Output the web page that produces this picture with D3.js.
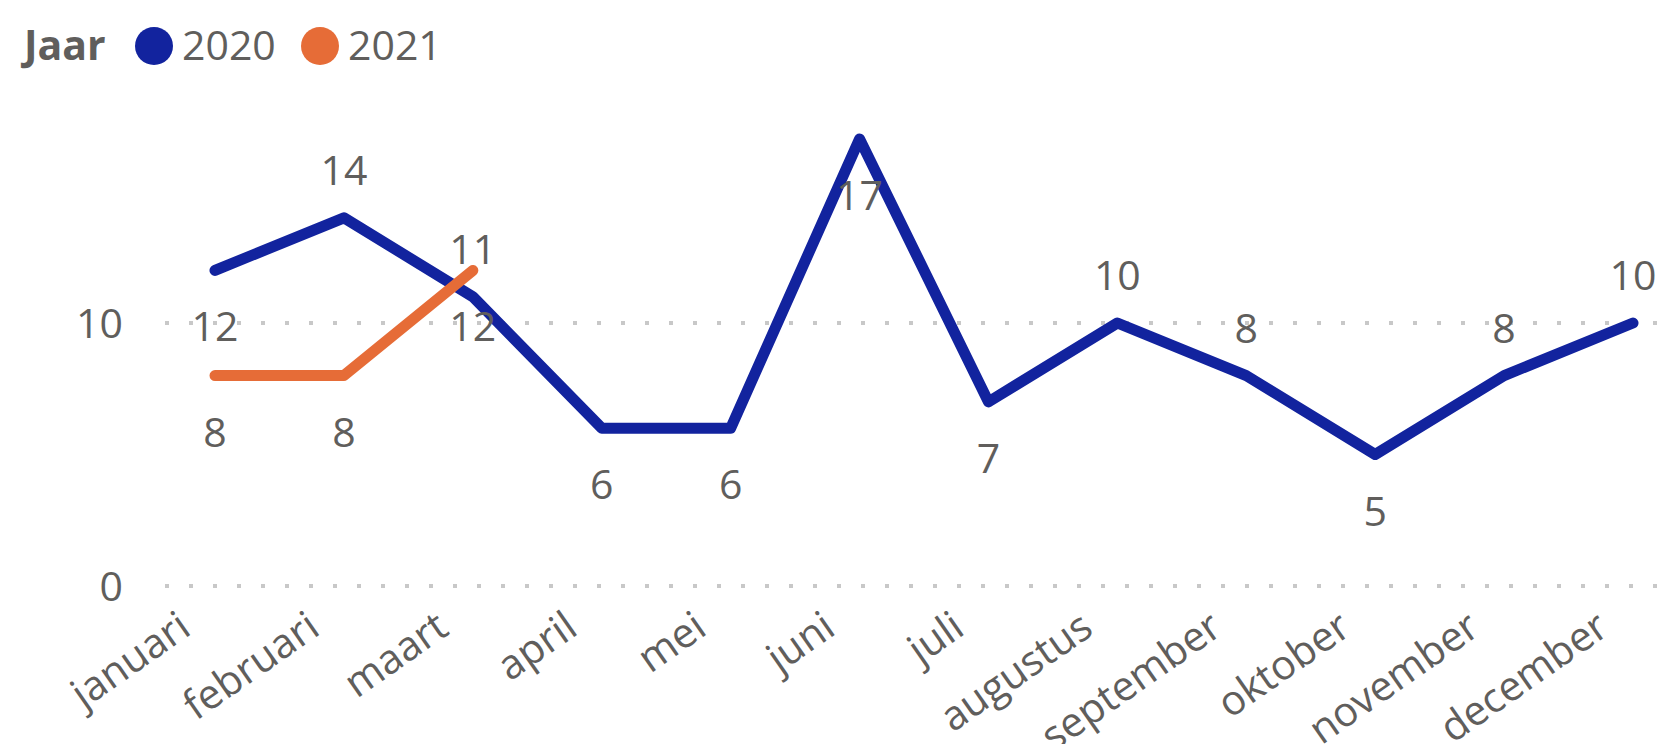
<!DOCTYPE html>
<html>
<head>
    <title>Jaar 2020 / 2021</title>
    <script src="https://cdnjs.cloudflare.com/ajax/libs/d3/7.8.5/d3.min.js"></script>
    <style>
        body { margin: 0; background: white; }
        svg { display: block; }
        text { font-family: "Segoe UI", "Open Sans", sans-serif; fill: #605E5C; }
    </style>
</head>
<body>
    <svg width="1663" height="744"></svg>

    <script>
        // data
        const months = ["januari", "februari", "maart", "april", "mei", "juni",
                        "juli", "augustus", "september", "oktober", "november", "december"];
        const values2020 = [12, 14, 11, 6, 6, 17, 7, 10, 8, 5, 8, 10];
        const values2021 = [8, 8, 12];
        const yTicks = [0, 10];
        const seriesNames = ["2020", "2021"];
        const seriesColors = ["#12239E", "#E66C37"];

        // label placement (above / below the point), like the original
        const place2020 = ["below", "above", "above", "below", "below", "below",
                           "below", "above", "above", "below", "above", "above"];
        const place2021 = ["below", "below", "below"];

        const svg = d3.select("svg");
        const fontSize = 41;

        const x = d3.scalePoint().domain(months).range([215, 1633]);
        const y = d3.scaleLinear().domain([0, 10]).range([586, 323]);

        // gridlines + y labels
        const grid = svg.append("g");
        yTicks.forEach(t => {
            grid.append("line")
                .attr("x1", 165).attr("x2", 1663)
                .attr("y1", y(t)).attr("y2", y(t))
                .attr("stroke", "#c8c8c8")
                .attr("stroke-width", 4)
                .attr("stroke-dasharray", "4 20");
            grid.append("text")
                .attr("x", 123).attr("y", y(t))
                .attr("dy", "0.36em")
                .attr("text-anchor", "end")
                .attr("font-size", fontSize)
                .text(t);
        });

        // x labels
        svg.append("g").selectAll("text")
            .data(months)
            .join("text")
            .attr("transform", d => `translate(${x(d) - 22},${633}) rotate(-35)`)
            .attr("text-anchor", "end")
            .attr("font-size", fontSize)
            .text(d => d);

        // lines
        const line = d3.line()
            .x((d, i) => x(months[i]))
            .y(d => y(d));

        const series = [
            { values: values2020, place: place2020, color: seriesColors[0] },
            { values: values2021, place: place2021, color: seriesColors[1] }
        ];

        series.forEach(s => {
            svg.append("path")
                .datum(s.values)
                .attr("d", line)
                .attr("fill", "none")
                .attr("stroke", s.color)
                .attr("stroke-width", 11)
                .attr("stroke-linejoin", "round")
                .attr("stroke-linecap", "round");
        });

        // data labels
        series.forEach(s => {
            svg.append("g").selectAll("text")
                .data(s.values)
                .join("text")
                .attr("x", (d, i) => x(months[i]))
                .attr("y", (d, i) => s.place[i] === "above" ? y(d) - 33 : y(d) + 71)
                .attr("text-anchor", "middle")
                .attr("font-size", fontSize)
                .text(d => d);
        });

        // legend
        const legend = svg.append("g");
        legend.append("text")
            .attr("x", 24).attr("y", 60)
            .attr("font-size", fontSize)
            .attr("font-weight", "bold")
            .text("Jaar");
        const legendX = [154, 320];
        seriesNames.forEach((name, i) => {
            legend.append("circle")
                .attr("cx", legendX[i]).attr("cy", 46).attr("r", 19)
                .attr("fill", seriesColors[i]);
            legend.append("text")
                .attr("x", legendX[i] + 28).attr("y", 60)
                .attr("font-size", fontSize)
                .text(name);
        });
    </script>
</body>
</html>
